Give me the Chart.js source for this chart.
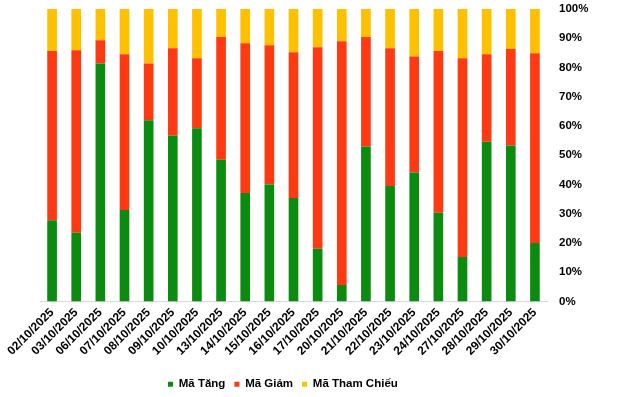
<!DOCTYPE html>
<html>
<head>
<meta charset="utf-8">
<script src="https://cdn.jsdelivr.net/npm/chart.js@4.4.1/dist/chart.umd.min.js"></script>
<style>
html,body{margin:0;padding:0;background:#fff;}
#wrap{width:640px;height:397px;}
</style>
</head>
<body>
<div id="wrap"><canvas id="c" width="640" height="397"></canvas></div>
<script>
const categories = ["02/10/2025","03/10/2025","06/10/2025","07/10/2025","08/10/2025","09/10/2025","10/10/2025","13/10/2025","14/10/2025","15/10/2025","16/10/2025","17/10/2025","20/10/2025","21/10/2025","22/10/2025","23/10/2025","24/10/2025","27/10/2025","28/10/2025","29/10/2025","30/10/2025"];
const maTang = [27.8,23.5,81.4,31.3,62.0,56.7,59.2,48.5,37.1,40.0,35.4,18.0,5.6,53.0,39.5,44.1,30.3,15.2,54.6,53.3,20.0];
const maGiam = [57.8,62.4,7.9,53.2,19.4,29.9,24.0,41.9,51.2,47.6,49.8,68.9,83.4,37.4,47.1,39.7,55.3,68.0,29.9,33.0,64.9];
const maThamChieu = [14.4,14.1,10.7,15.5,18.6,13.4,16.8,9.6,11.7,12.4,14.8,13.1,11.0,9.6,13.4,16.2,14.4,16.8,15.5,13.7,15.1];
const seriesNames = ["Mã Tăng","Mã Giảm","Mã Tham Chiếu"];
const yTicks = [0,10,20,30,40,50,60,70,80,90,100];

const FONT = "'Liberation Sans', Arial, sans-serif";
const legendShift = {
  id: 'legendShift',
  afterLayout(chart) {
    const lg = chart.legend;
    if (lg) {
      lg.left = 168 - lg.options.labels.padding;
      lg.top += 3; lg.bottom += 3;
    }
  }
};

new Chart(document.getElementById('c'), {
  type: 'bar',
  data: {
    labels: categories,
    datasets: [
      {label: seriesNames[0], data: maTang, backgroundColor: '#0b8b10'},
      {label: seriesNames[1], data: maGiam, backgroundColor: '#ff3a12'},
      {label: seriesNames[2], data: maThamChieu, backgroundColor: '#ffc000'}
    ]
  },
  options: {
    responsive: false,
    animation: false,
    layout: {padding: {left: 40, right: 0, top: 9, bottom: 0}},
    datasets: {bar: {categoryPercentage: 1, barPercentage: 0.4}},
    plugins: {
      tooltip: {enabled: false},
      legend: {
        position: 'bottom',
        align: 'start',
        labels: {
          boxWidth: 5, boxHeight: 5, padding: 9,
          color: '#000',
          font: {family: FONT, size: 11.5, weight: 'bold'}
        }
      }
    },
    scales: {
      x: {
        stacked: true,
        grid: {display: false, drawTicks: false},
        border: {display: true, color: '#d9d9d9', width: 1},
        ticks: {
          color: '#000', minRotation: 45, maxRotation: 45, autoSkip: false, padding: 4,
          font: {family: FONT, size: 12, weight: 'bold'}
        },
        afterFit(s) { s.height = 65; s.paddingLeft = 0; s.paddingRight = 0; }
      },
      y: {
        stacked: true,
        position: 'right',
        min: 0, max: 100,
        afterBuildTicks(s) { s.ticks = yTicks.map(v => ({value: v})); },
        grid: {display: false, drawTicks: false},
        border: {display: false},
        ticks: {
          color: '#000', padding: 12,
          font: {family: FONT, size: 11.5, weight: 'bold'},
          callback: v => v + '%'
        },
        afterFit(s) { s.width = 93; s.paddingTop = 0; s.paddingBottom = 0; }
      }
    }
  },
  plugins: [legendShift]
});
</script>
</body>
</html>
